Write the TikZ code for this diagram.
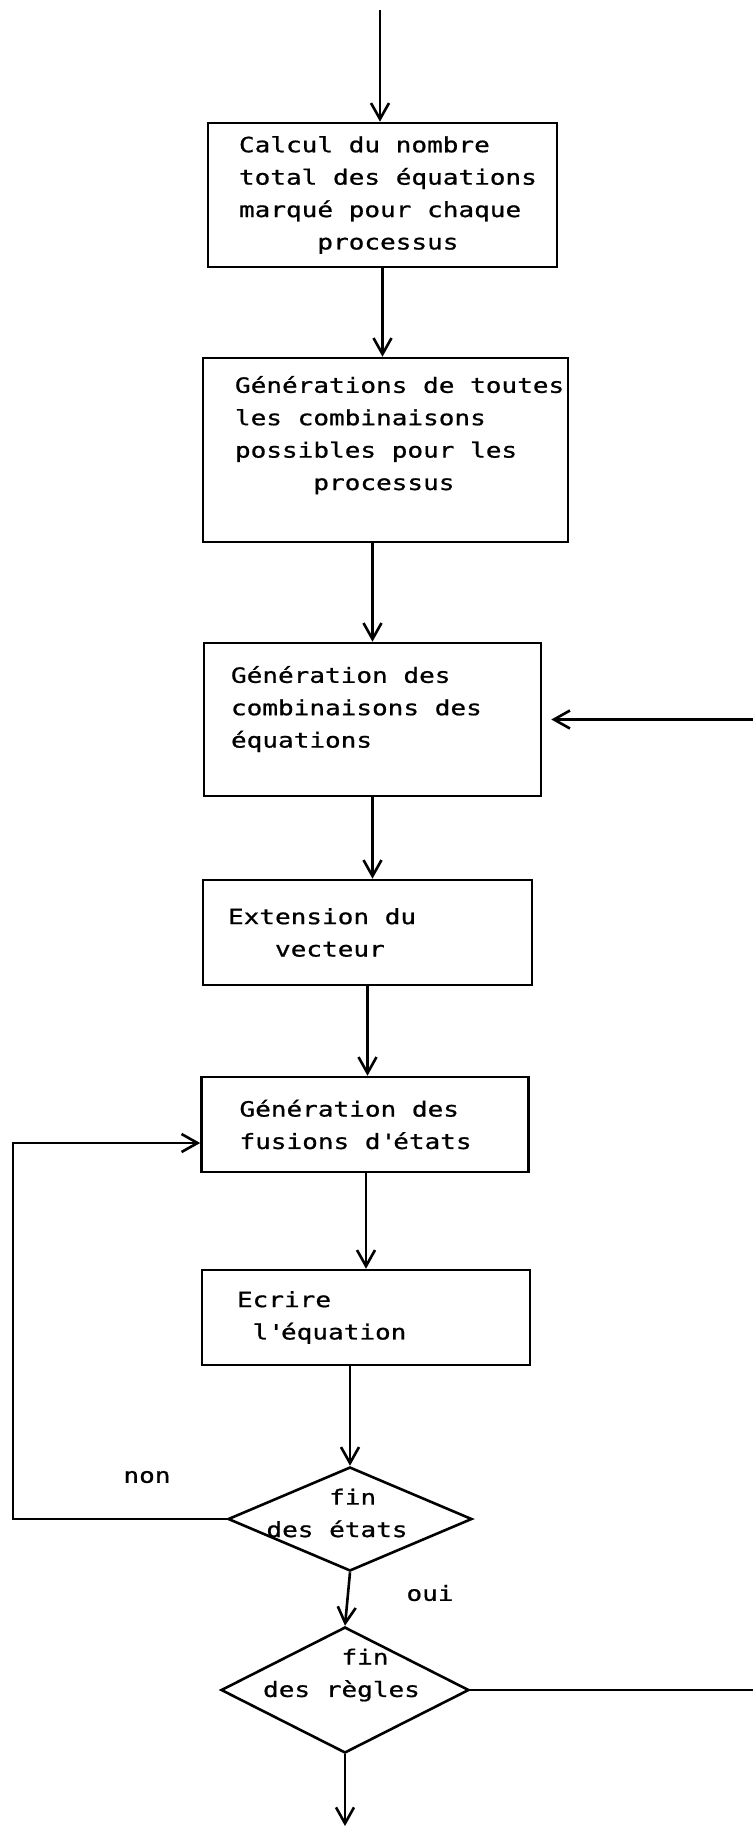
\documentclass[tikz,border=0pt]{standalone}
\usepackage{fontspec}
\setmainfont[FakeStretch=1.24, FakeBold=0.8]{DejaVu Sans Mono}
\usepackage{tikz}
\usetikzlibrary{arrows.meta}
\usetikzlibrary{shapes.geometric}
\tikzstyle{procbox} = [draw=black, line width=1.3pt, rectangle, inner sep=0pt]
\tikzstyle{decision} = [draw=black, line width=1.3pt, diamond, inner sep=0pt]
\tikzstyle{flowtext} = [align=left, inner sep=0pt]
\tikzstyle{arrowline} = [draw=black, line width=1.3pt, -{Straight Barb[length=8pt,width=9pt]}]

\begin{document}
\begin{tikzpicture}[x=0.5pt, y=-0.5pt, font=\fontsize{10.5}{16.2}\selectfont]
    \useasboundingbox (0,0) rectangle (752,1826);

    \node [procbox, minimum width=174.5pt, minimum height=72pt] (calcul) at (382.5,195) {%
        \begin{minipage}{174.5pt}\leftskip=15.5pt\relax
            Calcul du nombre\\
            total des équations\\
            marqué pour chaque\\
            \phantom{xxxxx}processus
        \end{minipage}%
    };
    \node [procbox, minimum width=182.5pt, minimum height=92pt] (combproc) at (385.5,450) {%
        \begin{minipage}[c][74pt][t]{182.5pt}\leftskip=16pt\relax
            Générations de toutes\\
            les combinaisons\\
            possibles pour les\\
            \phantom{xxxxx}processus
        \end{minipage}%
    };
    \node [procbox, minimum width=168.5pt, minimum height=76.5pt] (combeq) at (372.5,719.5) {%
        \begin{minipage}[c][53.5pt][t]{168.5pt}\leftskip=13.5pt\relax
            Génération des\\
            combinaisons des\\
            équations
        \end{minipage}%
    };
    \node [procbox, minimum width=164.5pt, minimum height=52.5pt] (extension) at (367.5,932.5) {%
        \begin{minipage}{164.5pt}\leftskip=12.5pt\relax
            Extension du\\
            \phantom{xxx}vecteur
        \end{minipage}%
    };
    \node [procbox, minimum width=163.5pt, minimum height=47.5pt] (fusion) at (365,1124.5) {%
        \begin{minipage}{163.5pt}\leftskip=19pt\relax
            Génération des\\
            fusions d\textquotesingle états
        \end{minipage}%
    };
    \node [procbox, minimum width=164pt, minimum height=47.5pt] (ecrire) at (366,1317.5) {%
        \begin{minipage}{164pt}\leftskip=17.5pt\relax
            Ecrire\\
            \phantom{x}l\textquotesingle équation
        \end{minipage}%
    };

    \node [decision, minimum width=122pt, minimum height=52pt] (finetats) at (350,1519) {};
    \node [flowtext] (finetatstxt) at ([xshift=-6.5pt, yshift=3pt]finetats.center) {\phantom{xxxx}fin\\des états};
    \node [decision, minimum width=124pt, minimum height=63pt] (finregles) at (345,1690) {};
    \node [flowtext] (finreglestxt) at ([xshift=-1.75pt, yshift=7.5pt]finregles.center) {\phantom{xxxxx}fin\\des règles};

    \node [flowtext] (nonlbl) at (147,1477) {non};
    \node [flowtext] (ouilbl) at (430,1593) {oui};

    \coordinate (entree) at (380,10);
    \coordinate (sortie) at (345,1826);
    \coordinate (nonturn) at (13,1300);
    \coordinate (reglesturn) at (790,1000);

    \draw [arrowline] (entree) -- (entree |- calcul.north);
    \draw [arrowline] (calcul.south) -- (calcul.south |- combproc.north);
    \draw [arrowline] (combeq.north |- combproc.south) -- (combeq.north);
    \draw [arrowline] (combeq.south) -- (combeq.south |- extension.north);
    \draw [arrowline] (extension.south) -- (extension.south |- fusion.north);
    \draw [arrowline] (ecrire.north |- fusion.south) -- (ecrire.north);
    \draw [arrowline] (ecrire.south -| finetats.north) -- (finetats.north);
    \draw [arrowline] (finetats.south) -- (finregles.north);
    \draw [arrowline] (finregles.south) -- (finregles.south |- sortie);
    \draw [arrowline] (finetats.west) -| (nonturn) |- ([yshift=-9.25pt]fusion.west);
    \draw [arrowline, shorten >=4.5pt] (finregles.east) -| (reglesturn) |- (combeq.east);
\end{tikzpicture}
\end{document}
